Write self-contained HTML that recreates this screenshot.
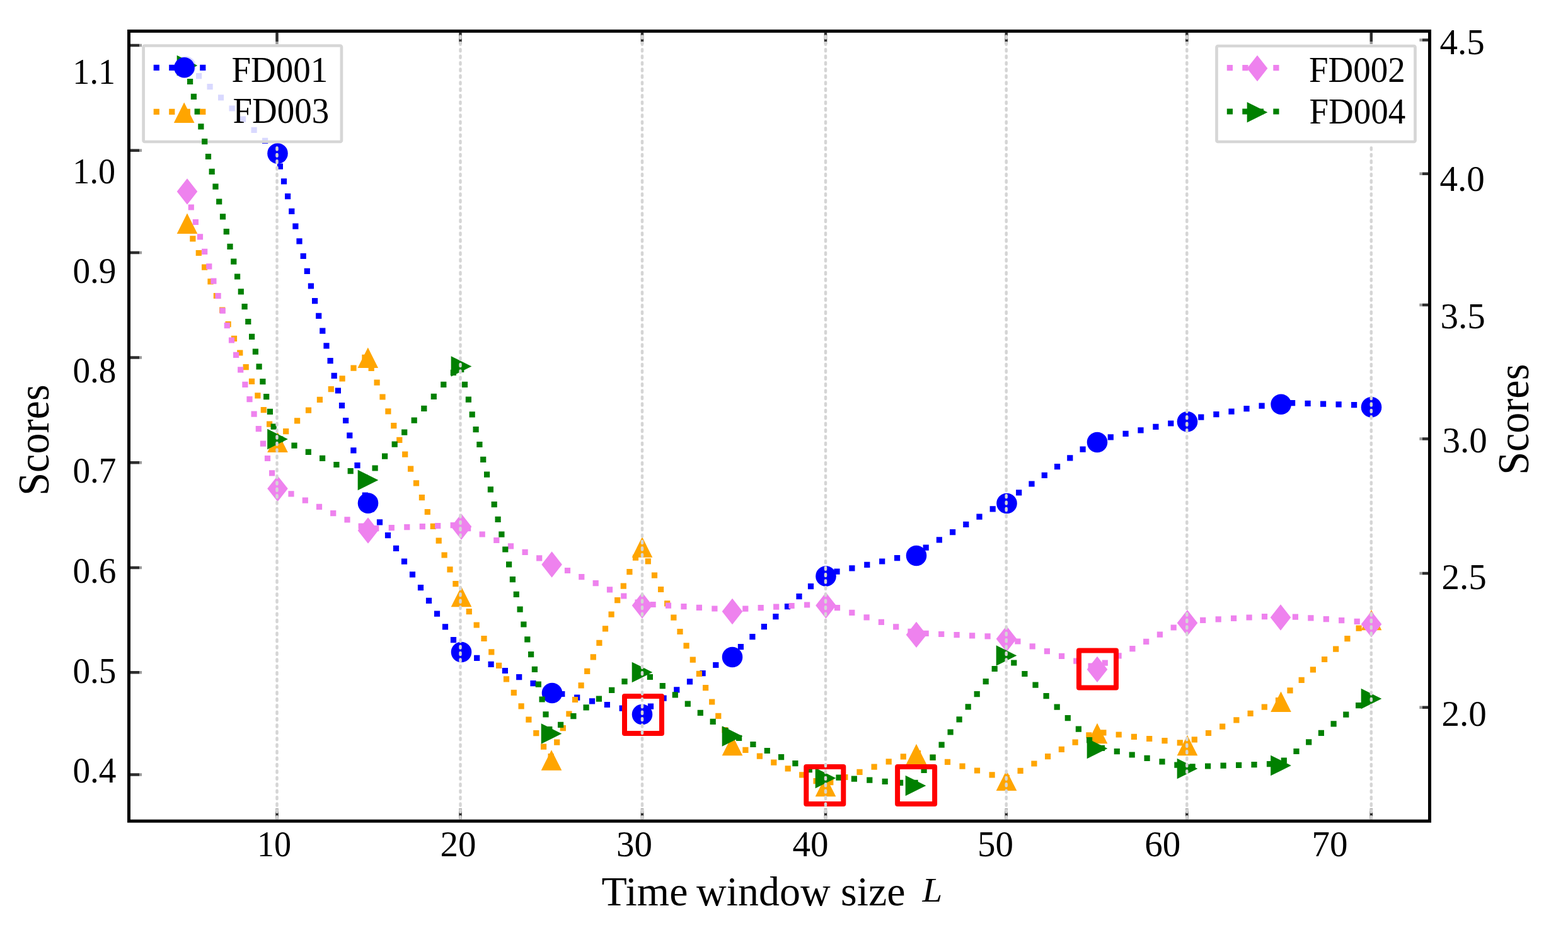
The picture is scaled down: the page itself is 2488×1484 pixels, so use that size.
<!DOCTYPE html>
<html><head><meta charset="utf-8"><title>Scores vs Time window size</title>
<style>html,body{margin:0;padding:0;background:#fff;overflow:hidden}svg{display:block}</style>
</head><body>
<svg width="2488" height="1484" viewBox="0 0 2488 1484" font-family="'Liberation Serif', 'Times New Roman', serif">
<rect x="0" y="0" width="2488" height="1484" fill="#ffffff"/>
<defs><clipPath id="ax"><rect x="207" y="52" width="2059" height="1248"/></clipPath></defs>
<g clip-path="url(#ax)">
<path d="M293.5 98.8h9.2v9.2h-9.2zM311.0 116.0h9.2v9.2h-9.2zM328.5 133.1h9.2v9.2h-9.2zM346.0 150.3h9.2v9.2h-9.2zM363.5 167.4h9.2v9.2h-9.2zM381.0 184.6h9.2v9.2h-9.2zM398.5 201.7h9.2v9.2h-9.2zM416.0 218.8h9.2v9.2h-9.2zM433.5 236.0h9.2v9.2h-9.2zM439.8 259.6h9.2v9.2h-9.2zM445.9 283.3h9.2v9.2h-9.2zM452.0 307.1h9.2v9.2h-9.2zM458.2 330.8h9.2v9.2h-9.2zM464.3 354.5h9.2v9.2h-9.2zM470.4 378.2h9.2v9.2h-9.2zM476.6 401.9h9.2v9.2h-9.2zM482.7 425.7h9.2v9.2h-9.2zM488.8 449.4h9.2v9.2h-9.2zM495.0 473.1h9.2v9.2h-9.2zM501.1 496.8h9.2v9.2h-9.2zM507.2 520.5h9.2v9.2h-9.2zM513.4 544.3h9.2v9.2h-9.2zM519.5 568.0h9.2v9.2h-9.2zM525.6 591.7h9.2v9.2h-9.2zM531.8 615.4h9.2v9.2h-9.2zM537.9 639.1h9.2v9.2h-9.2zM544.0 662.9h9.2v9.2h-9.2zM550.2 686.6h9.2v9.2h-9.2zM556.3 710.3h9.2v9.2h-9.2zM562.4 734.0h9.2v9.2h-9.2zM568.6 757.7h9.2v9.2h-9.2zM574.7 781.5h9.2v9.2h-9.2zM584.9 803.4h9.2v9.2h-9.2zM597.9 824.2h9.2v9.2h-9.2zM610.9 845.0h9.2v9.2h-9.2zM623.9 865.7h9.2v9.2h-9.2zM636.9 886.5h9.2v9.2h-9.2zM649.9 907.3h9.2v9.2h-9.2zM662.9 928.0h9.2v9.2h-9.2zM675.9 948.8h9.2v9.2h-9.2zM688.9 969.6h9.2v9.2h-9.2zM701.9 990.3h9.2v9.2h-9.2zM714.9 1011.1h9.2v9.2h-9.2zM729.8 1029.7h9.2v9.2h-9.2zM752.1 1039.8h9.2v9.2h-9.2zM774.5 1049.8h9.2v9.2h-9.2zM796.8 1059.9h9.2v9.2h-9.2zM819.1 1070.0h9.2v9.2h-9.2zM841.4 1080.1h9.2v9.2h-9.2zM863.8 1090.2h9.2v9.2h-9.2zM887.2 1096.9h9.2v9.2h-9.2zM911.1 1102.6h9.2v9.2h-9.2zM934.9 1108.2h9.2v9.2h-9.2zM958.8 1113.9h9.2v9.2h-9.2zM982.6 1119.6h9.2v9.2h-9.2zM1006.4 1125.2h9.2v9.2h-9.2zM1027.9 1116.6h9.2v9.2h-9.2zM1048.5 1103.5h9.2v9.2h-9.2zM1069.2 1090.3h9.2v9.2h-9.2zM1089.9 1077.2h9.2v9.2h-9.2zM1110.5 1064.0h9.2v9.2h-9.2zM1131.2 1050.9h9.2v9.2h-9.2zM1151.9 1037.7h9.2v9.2h-9.2zM1170.8 1022.1h9.2v9.2h-9.2zM1189.3 1006.1h9.2v9.2h-9.2zM1207.8 990.1h9.2v9.2h-9.2zM1226.3 974.0h9.2v9.2h-9.2zM1244.9 958.0h9.2v9.2h-9.2zM1263.4 942.0h9.2v9.2h-9.2zM1281.9 926.0h9.2v9.2h-9.2zM1300.4 909.9h9.2v9.2h-9.2zM1323.4 902.6h9.2v9.2h-9.2zM1347.3 897.2h9.2v9.2h-9.2zM1371.2 891.8h9.2v9.2h-9.2zM1395.1 886.4h9.2v9.2h-9.2zM1419.0 881.0h9.2v9.2h-9.2zM1442.9 875.6h9.2v9.2h-9.2zM1464.6 864.6h9.2v9.2h-9.2zM1485.8 852.3h9.2v9.2h-9.2zM1507.0 840.0h9.2v9.2h-9.2zM1528.2 827.8h9.2v9.2h-9.2zM1549.4 815.5h9.2v9.2h-9.2zM1570.6 803.2h9.2v9.2h-9.2zM1591.8 790.9h9.2v9.2h-9.2zM1612.1 777.2h9.2v9.2h-9.2zM1632.4 763.4h9.2v9.2h-9.2zM1652.7 749.7h9.2v9.2h-9.2zM1673.0 736.0h9.2v9.2h-9.2zM1693.2 722.3h9.2v9.2h-9.2zM1713.5 708.6h9.2v9.2h-9.2zM1733.8 694.8h9.2v9.2h-9.2zM1757.7 689.2h9.2v9.2h-9.2zM1781.5 683.8h9.2v9.2h-9.2zM1805.4 678.3h9.2v9.2h-9.2zM1829.3 672.8h9.2v9.2h-9.2zM1853.2 667.4h9.2v9.2h-9.2zM1877.1 661.9h9.2v9.2h-9.2zM1901.2 657.5h9.2v9.2h-9.2zM1925.3 653.0h9.2v9.2h-9.2zM1949.4 648.5h9.2v9.2h-9.2zM1973.4 644.1h9.2v9.2h-9.2zM1997.5 639.6h9.2v9.2h-9.2zM2021.6 635.2h9.2v9.2h-9.2zM2046.0 635.0h9.2v9.2h-9.2zM2070.5 635.8h9.2v9.2h-9.2zM2095.0 636.6h9.2v9.2h-9.2zM2119.5 637.3h9.2v9.2h-9.2zM2144.0 638.1h9.2v9.2h-9.2zM2168.5 638.9h9.2v9.2h-9.2z" fill="#0000ff" />
<circle cx="294.5" cy="105.5" r="16.3" fill="#0000ff"/>
<circle cx="440.5" cy="243.6" r="16.3" fill="#0000ff"/>
<circle cx="584.0" cy="798.6" r="16.3" fill="#0000ff"/>
<circle cx="732.0" cy="1035.0" r="16.3" fill="#0000ff"/>
<circle cx="876.0" cy="1100.0" r="16.3" fill="#0000ff"/>
<circle cx="1019.0" cy="1134.0" r="16.3" fill="#0000ff"/>
<circle cx="1162.0" cy="1043.0" r="16.3" fill="#0000ff"/>
<circle cx="1310.5" cy="914.5" r="16.3" fill="#0000ff"/>
<circle cx="1454.0" cy="882.0" r="16.3" fill="#0000ff"/>
<circle cx="1597.5" cy="799.0" r="16.3" fill="#0000ff"/>
<circle cx="1741.0" cy="702.0" r="16.3" fill="#0000ff"/>
<circle cx="1884.0" cy="669.3" r="16.3" fill="#0000ff"/>
<circle cx="2032.6" cy="641.8" r="16.3" fill="#0000ff"/>
<circle cx="2176.0" cy="646.3" r="16.3" fill="#0000ff"/>
<path d="M292.0 351.7h9.2v9.2h-9.2zM301.3 374.3h9.2v9.2h-9.2zM310.7 396.9h9.2v9.2h-9.2zM320.0 419.6h9.2v9.2h-9.2zM329.4 442.2h9.2v9.2h-9.2zM338.8 464.9h9.2v9.2h-9.2zM348.1 487.5h9.2v9.2h-9.2zM357.5 510.1h9.2v9.2h-9.2zM366.9 532.8h9.2v9.2h-9.2zM376.2 555.4h9.2v9.2h-9.2zM385.6 578.1h9.2v9.2h-9.2zM394.9 600.7h9.2v9.2h-9.2zM404.3 623.3h9.2v9.2h-9.2zM413.7 646.0h9.2v9.2h-9.2zM423.0 668.6h9.2v9.2h-9.2zM432.4 691.3h9.2v9.2h-9.2zM449.1 680.0h9.2v9.2h-9.2zM467.0 663.2h9.2v9.2h-9.2zM484.9 646.5h9.2v9.2h-9.2zM502.8 629.8h9.2v9.2h-9.2zM520.7 613.0h9.2v9.2h-9.2zM538.5 596.3h9.2v9.2h-9.2zM556.4 579.5h9.2v9.2h-9.2zM574.3 562.8h9.2v9.2h-9.2zM584.6 579.7h9.2v9.2h-9.2zM593.5 602.5h9.2v9.2h-9.2zM602.4 625.4h9.2v9.2h-9.2zM611.3 648.2h9.2v9.2h-9.2zM620.2 671.0h9.2v9.2h-9.2zM629.2 693.8h9.2v9.2h-9.2zM638.1 716.6h9.2v9.2h-9.2zM647.0 739.5h9.2v9.2h-9.2zM655.9 762.3h9.2v9.2h-9.2zM664.8 785.1h9.2v9.2h-9.2zM673.7 807.9h9.2v9.2h-9.2zM682.7 830.7h9.2v9.2h-9.2zM691.6 853.6h9.2v9.2h-9.2zM700.5 876.4h9.2v9.2h-9.2zM709.4 899.2h9.2v9.2h-9.2zM718.3 922.0h9.2v9.2h-9.2zM727.9 944.5h9.2v9.2h-9.2zM739.7 966.0h9.2v9.2h-9.2zM751.6 987.4h9.2v9.2h-9.2zM763.4 1008.9h9.2v9.2h-9.2zM775.2 1030.3h9.2v9.2h-9.2zM787.0 1051.8h9.2v9.2h-9.2zM798.9 1073.3h9.2v9.2h-9.2zM810.7 1094.7h9.2v9.2h-9.2zM822.5 1116.2h9.2v9.2h-9.2zM834.3 1137.6h9.2v9.2h-9.2zM846.2 1159.1h9.2v9.2h-9.2zM858.0 1180.6h9.2v9.2h-9.2zM869.5 1196.0h9.2v9.2h-9.2zM879.1 1173.5h9.2v9.2h-9.2zM888.7 1151.0h9.2v9.2h-9.2zM898.3 1128.4h9.2v9.2h-9.2zM907.9 1105.9h9.2v9.2h-9.2zM917.5 1083.3h9.2v9.2h-9.2zM927.1 1060.8h9.2v9.2h-9.2zM936.7 1038.3h9.2v9.2h-9.2zM946.3 1015.7h9.2v9.2h-9.2zM955.9 993.2h9.2v9.2h-9.2zM965.5 970.6h9.2v9.2h-9.2zM975.1 948.1h9.2v9.2h-9.2zM984.7 925.6h9.2v9.2h-9.2zM994.3 903.0h9.2v9.2h-9.2zM1003.9 880.5h9.2v9.2h-9.2zM1013.6 864.0h9.2v9.2h-9.2zM1023.7 886.3h9.2v9.2h-9.2zM1033.9 908.6h9.2v9.2h-9.2zM1044.0 930.9h9.2v9.2h-9.2zM1054.1 953.3h9.2v9.2h-9.2zM1064.3 975.6h9.2v9.2h-9.2zM1074.4 997.9h9.2v9.2h-9.2zM1084.5 1020.2h9.2v9.2h-9.2zM1094.7 1042.5h9.2v9.2h-9.2zM1104.8 1064.8h9.2v9.2h-9.2zM1115.0 1087.1h9.2v9.2h-9.2zM1125.1 1109.4h9.2v9.2h-9.2zM1135.2 1131.7h9.2v9.2h-9.2zM1145.4 1154.0h9.2v9.2h-9.2zM1155.9 1175.9h9.2v9.2h-9.2zM1178.3 1185.8h9.2v9.2h-9.2zM1200.8 1195.6h9.2v9.2h-9.2zM1223.2 1205.5h9.2v9.2h-9.2zM1245.6 1215.3h9.2v9.2h-9.2zM1268.1 1225.2h9.2v9.2h-9.2zM1290.5 1235.0h9.2v9.2h-9.2zM1313.2 1237.1h9.2v9.2h-9.2zM1336.3 1228.9h9.2v9.2h-9.2zM1359.4 1220.7h9.2v9.2h-9.2zM1382.5 1212.5h9.2v9.2h-9.2zM1405.6 1204.3h9.2v9.2h-9.2zM1428.7 1196.2h9.2v9.2h-9.2zM1451.9 1191.0h9.2v9.2h-9.2zM1475.4 1197.8h9.2v9.2h-9.2zM1498.9 1204.7h9.2v9.2h-9.2zM1522.4 1211.5h9.2v9.2h-9.2zM1545.9 1218.4h9.2v9.2h-9.2zM1569.5 1225.3h9.2v9.2h-9.2zM1592.8 1230.0h9.2v9.2h-9.2zM1614.5 1218.7h9.2v9.2h-9.2zM1636.3 1207.4h9.2v9.2h-9.2zM1658.0 1196.1h9.2v9.2h-9.2zM1679.8 1184.8h9.2v9.2h-9.2zM1701.5 1173.6h9.2v9.2h-9.2zM1723.3 1162.3h9.2v9.2h-9.2zM1746.3 1158.2h9.2v9.2h-9.2zM1770.6 1161.4h9.2v9.2h-9.2zM1794.8 1164.7h9.2v9.2h-9.2zM1819.1 1167.9h9.2v9.2h-9.2zM1843.4 1171.1h9.2v9.2h-9.2zM1867.7 1174.3h9.2v9.2h-9.2zM1890.7 1169.3h9.2v9.2h-9.2zM1912.9 1158.9h9.2v9.2h-9.2zM1935.1 1148.6h9.2v9.2h-9.2zM1957.3 1138.2h9.2v9.2h-9.2zM1979.5 1127.8h9.2v9.2h-9.2zM2001.7 1117.5h9.2v9.2h-9.2zM2023.9 1107.1h9.2v9.2h-9.2zM2042.4 1091.2h9.2v9.2h-9.2zM2060.6 1074.8h9.2v9.2h-9.2zM2078.8 1058.3h9.2v9.2h-9.2zM2097.0 1041.9h9.2v9.2h-9.2zM2115.1 1025.5h9.2v9.2h-9.2zM2133.3 1009.0h9.2v9.2h-9.2zM2151.5 992.6h9.2v9.2h-9.2z" fill="#ffa500" />
<polygon points="297.0,338.5 280.7,371.1 313.3,371.1" fill="#ffa500"/>
<polygon points="440.5,685.5 424.2,718.1 456.8,718.1" fill="#ffa500"/>
<polygon points="583.8,551.4 567.5,584.0 600.1,584.0" fill="#ffa500"/>
<polygon points="732.0,930.7 715.7,963.3 748.3,963.3" fill="#ffa500"/>
<polygon points="875.0,1190.2 858.7,1222.8 891.3,1222.8" fill="#ffa500"/>
<polygon points="1019.0,852.1 1002.7,884.7 1035.3,884.7" fill="#ffa500"/>
<polygon points="1162.0,1166.7 1145.7,1199.3 1178.3,1199.3" fill="#ffa500"/>
<polygon points="1310.0,1231.7 1293.7,1264.3 1326.3,1264.3" fill="#ffa500"/>
<polygon points="1454.0,1180.7 1437.7,1213.3 1470.3,1213.3" fill="#ffa500"/>
<polygon points="1597.0,1222.4 1580.7,1255.0 1613.3,1255.0" fill="#ffa500"/>
<polygon points="1741.0,1147.7 1724.7,1180.3 1757.3,1180.3" fill="#ffa500"/>
<polygon points="1884.0,1166.7 1867.7,1199.3 1900.3,1199.3" fill="#ffa500"/>
<polygon points="2032.5,1097.4 2016.2,1130.0 2048.8,1130.0" fill="#ffa500"/>
<polygon points="2176.0,967.7 2159.7,1000.3 2192.3,1000.3" fill="#ffa500"/>
<rect x="227.6" y="72.5" width="314.3" height="152.5" rx="2" fill="#ffffff" fill-opacity="0.85" stroke="#d6d6d6" stroke-width="4.7"/>
<path d="M291.5 301.0h9.2v9.2h-9.2zM298.7 324.4h9.2v9.2h-9.2zM305.8 347.9h9.2v9.2h-9.2zM312.9 371.3h9.2v9.2h-9.2zM320.1 394.8h9.2v9.2h-9.2zM327.2 418.2h9.2v9.2h-9.2zM334.3 441.6h9.2v9.2h-9.2zM341.5 465.1h9.2v9.2h-9.2zM348.6 488.5h9.2v9.2h-9.2zM355.7 512.0h9.2v9.2h-9.2zM362.9 535.4h9.2v9.2h-9.2zM370.0 558.8h9.2v9.2h-9.2zM377.1 582.3h9.2v9.2h-9.2zM384.3 605.7h9.2v9.2h-9.2zM391.4 629.1h9.2v9.2h-9.2zM398.5 652.6h9.2v9.2h-9.2zM405.7 676.0h9.2v9.2h-9.2zM412.8 699.5h9.2v9.2h-9.2zM419.9 722.9h9.2v9.2h-9.2zM427.0 746.3h9.2v9.2h-9.2zM435.2 768.9h9.2v9.2h-9.2zM457.4 779.2h9.2v9.2h-9.2zM479.7 789.5h9.2v9.2h-9.2zM501.9 799.8h9.2v9.2h-9.2zM524.1 810.0h9.2v9.2h-9.2zM546.4 820.3h9.2v9.2h-9.2zM568.6 830.6h9.2v9.2h-9.2zM592.2 834.0h9.2v9.2h-9.2zM616.7 833.0h9.2v9.2h-9.2zM641.2 832.0h9.2v9.2h-9.2zM665.7 831.0h9.2v9.2h-9.2zM690.1 830.0h9.2v9.2h-9.2zM714.6 829.0h9.2v9.2h-9.2zM738.0 834.0h9.2v9.2h-9.2zM760.6 843.4h9.2v9.2h-9.2zM783.2 852.9h9.2v9.2h-9.2zM805.9 862.3h9.2v9.2h-9.2zM828.5 871.7h9.2v9.2h-9.2zM851.1 881.2h9.2v9.2h-9.2zM873.6 890.8h9.2v9.2h-9.2zM895.9 900.9h9.2v9.2h-9.2zM918.2 911.0h9.2v9.2h-9.2zM940.6 921.1h9.2v9.2h-9.2zM962.9 931.2h9.2v9.2h-9.2zM985.2 941.4h9.2v9.2h-9.2zM1007.5 951.5h9.2v9.2h-9.2zM1031.5 954.9h9.2v9.2h-9.2zM1055.9 956.5h9.2v9.2h-9.2zM1080.4 958.1h9.2v9.2h-9.2zM1104.8 959.8h9.2v9.2h-9.2zM1129.3 961.4h9.2v9.2h-9.2zM1153.7 963.0h9.2v9.2h-9.2zM1178.2 961.6h9.2v9.2h-9.2zM1202.6 960.1h9.2v9.2h-9.2zM1227.1 958.5h9.2v9.2h-9.2zM1251.5 956.9h9.2v9.2h-9.2zM1276.0 955.4h9.2v9.2h-9.2zM1300.4 953.8h9.2v9.2h-9.2zM1323.9 960.1h9.2v9.2h-9.2zM1347.2 967.7h9.2v9.2h-9.2zM1370.5 975.2h9.2v9.2h-9.2zM1393.8 982.7h9.2v9.2h-9.2zM1417.1 990.3h9.2v9.2h-9.2zM1440.4 997.8h9.2v9.2h-9.2zM1464.6 1000.8h9.2v9.2h-9.2zM1489.1 1001.9h9.2v9.2h-9.2zM1513.5 1003.1h9.2v9.2h-9.2zM1538.0 1004.2h9.2v9.2h-9.2zM1562.5 1005.3h9.2v9.2h-9.2zM1587.0 1006.5h9.2v9.2h-9.2zM1610.3 1013.4h9.2v9.2h-9.2zM1633.6 1021.2h9.2v9.2h-9.2zM1656.8 1029.0h9.2v9.2h-9.2zM1680.0 1036.8h9.2v9.2h-9.2zM1703.2 1044.6h9.2v9.2h-9.2zM1726.5 1052.4h9.2v9.2h-9.2zM1748.7 1047.5h9.2v9.2h-9.2zM1770.5 1036.3h9.2v9.2h-9.2zM1792.3 1025.1h9.2v9.2h-9.2zM1814.1 1013.8h9.2v9.2h-9.2zM1835.8 1002.6h9.2v9.2h-9.2zM1857.6 991.4h9.2v9.2h-9.2zM1879.7 981.2h9.2v9.2h-9.2zM1904.1 979.7h9.2v9.2h-9.2zM1928.6 978.3h9.2v9.2h-9.2zM1953.0 976.8h9.2v9.2h-9.2zM1977.5 975.4h9.2v9.2h-9.2zM2001.9 974.0h9.2v9.2h-9.2zM2026.4 972.7h9.2v9.2h-9.2zM2050.8 974.5h9.2v9.2h-9.2zM2075.3 976.3h9.2v9.2h-9.2zM2099.7 978.1h9.2v9.2h-9.2zM2124.1 980.0h9.2v9.2h-9.2zM2148.6 981.8h9.2v9.2h-9.2z" fill="#ee82ee" />
<polygon points="297.0,283.3 313.3,304.0 297.0,324.7 280.7,304.0" fill="#ee82ee"/>
<polygon points="440.5,754.9 456.8,775.6 440.5,796.3 424.2,775.6" fill="#ee82ee"/>
<polygon points="584.0,821.3 600.3,842.0 584.0,862.7 567.7,842.0" fill="#ee82ee"/>
<polygon points="732.0,815.3 748.3,836.0 732.0,856.7 715.7,836.0" fill="#ee82ee"/>
<polygon points="875.6,875.3 891.9,896.0 875.6,916.7 859.3,896.0" fill="#ee82ee"/>
<polygon points="1019.0,940.3 1035.3,961.0 1019.0,981.7 1002.7,961.0" fill="#ee82ee"/>
<polygon points="1162.0,949.8 1178.3,970.5 1162.0,991.2 1145.7,970.5" fill="#ee82ee"/>
<polygon points="1310.5,940.3 1326.8,961.0 1310.5,981.7 1294.2,961.0" fill="#ee82ee"/>
<polygon points="1454.0,986.7 1470.3,1007.4 1454.0,1028.1 1437.7,1007.4" fill="#ee82ee"/>
<polygon points="1597.0,993.3 1613.3,1014.0 1597.0,1034.7 1580.7,1014.0" fill="#ee82ee"/>
<polygon points="1741.0,1041.7 1757.3,1062.4 1741.0,1083.1 1724.7,1062.4" fill="#ee82ee"/>
<polygon points="1884.0,968.0 1900.3,988.7 1884.0,1009.4 1867.7,988.7" fill="#ee82ee"/>
<polygon points="2032.0,959.3 2048.3,980.0 2032.0,1000.7 2015.7,980.0" fill="#ee82ee"/>
<polygon points="2176.0,970.0 2192.3,990.7 2176.0,1011.4 2159.7,990.7" fill="#ee82ee"/>
<path d="M291.3 101.1h9.2v9.2h-9.2zM297.0 124.9h9.2v9.2h-9.2zM302.8 148.7h9.2v9.2h-9.2zM308.6 172.5h9.2v9.2h-9.2zM314.3 196.3h9.2v9.2h-9.2zM320.1 220.1h9.2v9.2h-9.2zM325.9 243.9h9.2v9.2h-9.2zM331.6 267.8h9.2v9.2h-9.2zM337.4 291.6h9.2v9.2h-9.2zM343.1 315.4h9.2v9.2h-9.2zM348.9 339.2h9.2v9.2h-9.2zM354.7 363.0h9.2v9.2h-9.2zM360.4 386.8h9.2v9.2h-9.2zM366.2 410.6h9.2v9.2h-9.2zM372.0 434.4h9.2v9.2h-9.2zM377.7 458.3h9.2v9.2h-9.2zM383.5 482.1h9.2v9.2h-9.2zM389.2 505.9h9.2v9.2h-9.2zM395.0 529.7h9.2v9.2h-9.2zM400.8 553.5h9.2v9.2h-9.2zM406.5 577.3h9.2v9.2h-9.2zM412.3 601.1h9.2v9.2h-9.2zM418.1 625.0h9.2v9.2h-9.2zM423.8 648.8h9.2v9.2h-9.2zM429.6 672.6h9.2v9.2h-9.2zM440.1 692.5h9.2v9.2h-9.2zM462.4 702.6h9.2v9.2h-9.2zM484.7 712.7h9.2v9.2h-9.2zM507.0 722.8h9.2v9.2h-9.2zM529.3 732.9h9.2v9.2h-9.2zM551.6 743.0h9.2v9.2h-9.2zM574.0 753.1h9.2v9.2h-9.2zM590.5 738.4h9.2v9.2h-9.2zM606.0 719.5h9.2v9.2h-9.2zM621.6 700.5h9.2v9.2h-9.2zM637.1 681.6h9.2v9.2h-9.2zM652.6 662.6h9.2v9.2h-9.2zM668.2 643.7h9.2v9.2h-9.2zM683.7 624.7h9.2v9.2h-9.2zM699.2 605.8h9.2v9.2h-9.2zM714.8 586.8h9.2v9.2h-9.2zM727.1 581.9h9.2v9.2h-9.2zM732.9 605.7h9.2v9.2h-9.2zM738.8 629.5h9.2v9.2h-9.2zM744.6 653.3h9.2v9.2h-9.2zM750.5 677.1h9.2v9.2h-9.2zM756.3 700.9h9.2v9.2h-9.2zM762.1 724.7h9.2v9.2h-9.2zM768.0 748.5h9.2v9.2h-9.2zM773.8 772.3h9.2v9.2h-9.2zM779.6 796.1h9.2v9.2h-9.2zM785.5 819.8h9.2v9.2h-9.2zM791.3 843.6h9.2v9.2h-9.2zM797.2 867.4h9.2v9.2h-9.2zM803.0 891.2h9.2v9.2h-9.2zM808.8 915.0h9.2v9.2h-9.2zM814.7 938.8h9.2v9.2h-9.2zM820.5 962.6h9.2v9.2h-9.2zM826.3 986.4h9.2v9.2h-9.2zM832.2 1010.2h9.2v9.2h-9.2zM838.0 1034.0h9.2v9.2h-9.2zM843.8 1057.8h9.2v9.2h-9.2zM849.7 1081.6h9.2v9.2h-9.2zM855.5 1105.4h9.2v9.2h-9.2zM861.4 1129.2h9.2v9.2h-9.2zM867.2 1153.0h9.2v9.2h-9.2zM885.0 1145.7h9.2v9.2h-9.2zM905.3 1132.0h9.2v9.2h-9.2zM925.5 1118.3h9.2v9.2h-9.2zM945.8 1104.5h9.2v9.2h-9.2zM966.1 1090.8h9.2v9.2h-9.2zM986.4 1077.1h9.2v9.2h-9.2zM1006.7 1063.3h9.2v9.2h-9.2zM1026.8 1069.9h9.2v9.2h-9.2zM1046.7 1084.1h9.2v9.2h-9.2zM1066.7 1098.3h9.2v9.2h-9.2zM1086.7 1112.5h9.2v9.2h-9.2zM1106.7 1126.7h9.2v9.2h-9.2zM1126.6 1140.8h9.2v9.2h-9.2zM1146.6 1155.0h9.2v9.2h-9.2zM1168.0 1166.8h9.2v9.2h-9.2zM1190.3 1176.9h9.2v9.2h-9.2zM1212.7 1186.9h9.2v9.2h-9.2zM1235.0 1197.0h9.2v9.2h-9.2zM1257.3 1207.0h9.2v9.2h-9.2zM1279.7 1217.0h9.2v9.2h-9.2zM1302.0 1227.1h9.2v9.2h-9.2zM1326.4 1229.5h9.2v9.2h-9.2zM1350.8 1231.6h9.2v9.2h-9.2zM1375.2 1233.6h9.2v9.2h-9.2zM1399.6 1235.7h9.2v9.2h-9.2zM1424.0 1237.7h9.2v9.2h-9.2zM1447.5 1237.8h9.2v9.2h-9.2zM1461.5 1217.7h9.2v9.2h-9.2zM1475.5 1197.6h9.2v9.2h-9.2zM1489.5 1177.5h9.2v9.2h-9.2zM1503.5 1157.4h9.2v9.2h-9.2zM1517.5 1137.3h9.2v9.2h-9.2zM1531.6 1117.2h9.2v9.2h-9.2zM1545.6 1097.1h9.2v9.2h-9.2zM1559.6 1077.0h9.2v9.2h-9.2zM1573.6 1056.9h9.2v9.2h-9.2zM1587.6 1036.8h9.2v9.2h-9.2zM1604.2 1047.4h9.2v9.2h-9.2zM1621.3 1064.9h9.2v9.2h-9.2zM1638.4 1082.5h9.2v9.2h-9.2zM1655.5 1100.0h9.2v9.2h-9.2zM1672.6 1117.5h9.2v9.2h-9.2zM1689.7 1135.1h9.2v9.2h-9.2zM1706.8 1152.6h9.2v9.2h-9.2zM1724.0 1170.1h9.2v9.2h-9.2zM1743.8 1182.7h9.2v9.2h-9.2zM1767.7 1188.1h9.2v9.2h-9.2zM1791.6 1193.4h9.2v9.2h-9.2zM1815.5 1198.8h9.2v9.2h-9.2zM1839.4 1204.2h9.2v9.2h-9.2zM1863.3 1209.5h9.2v9.2h-9.2zM1887.5 1212.3h9.2v9.2h-9.2zM1912.0 1211.4h9.2v9.2h-9.2zM1936.5 1210.6h9.2v9.2h-9.2zM1961.0 1209.8h9.2v9.2h-9.2zM1985.4 1209.0h9.2v9.2h-9.2zM2009.9 1208.1h9.2v9.2h-9.2zM2032.7 1202.4h9.2v9.2h-9.2zM2052.4 1187.9h9.2v9.2h-9.2zM2072.1 1173.3h9.2v9.2h-9.2zM2091.8 1158.7h9.2v9.2h-9.2zM2111.5 1144.2h9.2v9.2h-9.2zM2131.2 1129.6h9.2v9.2h-9.2zM2151.0 1115.1h9.2v9.2h-9.2z" fill="#008000" />
<polygon points="313.3,104.0 280.7,87.7 280.7,120.3" fill="#008000"/>
<polygon points="456.8,697.0 424.2,680.7 424.2,713.3" fill="#008000"/>
<polygon points="600.3,762.0 567.7,745.7 567.7,778.3" fill="#008000"/>
<polygon points="748.3,581.5 715.7,565.2 715.7,597.8" fill="#008000"/>
<polygon points="891.3,1164.5 858.7,1148.2 858.7,1180.8" fill="#008000"/>
<polygon points="1035.3,1067.0 1002.7,1050.7 1002.7,1083.3" fill="#008000"/>
<polygon points="1178.3,1168.5 1145.7,1152.2 1145.7,1184.8" fill="#008000"/>
<polygon points="1326.3,1235.0 1293.7,1218.7 1293.7,1251.3" fill="#008000"/>
<polygon points="1469.3,1247.0 1436.7,1230.7 1436.7,1263.3" fill="#008000"/>
<polygon points="1613.3,1040.5 1580.7,1024.2 1580.7,1056.8" fill="#008000"/>
<polygon points="1757.3,1188.0 1724.7,1171.7 1724.7,1204.3" fill="#008000"/>
<polygon points="1900.3,1220.0 1867.7,1203.7 1867.7,1236.3" fill="#008000"/>
<polygon points="2048.8,1215.0 2016.2,1198.7 2016.2,1231.3" fill="#008000"/>
<polygon points="2192.3,1109.0 2159.7,1092.7 2159.7,1125.3" fill="#008000"/>
<rect x="991.0" y="1105.0" width="59" height="59" fill="none" stroke="#ff0000" stroke-width="8" stroke-linejoin="round"/>
<rect x="1279.3" y="1217.1" width="59" height="59" fill="none" stroke="#ff0000" stroke-width="8" stroke-linejoin="round"/>
<rect x="1424.1" y="1217.0" width="59" height="59" fill="none" stroke="#ff0000" stroke-width="8" stroke-linejoin="round"/>
<rect x="1712.0" y="1032.5" width="59" height="59" fill="none" stroke="#ff0000" stroke-width="8" stroke-linejoin="round"/>
</g>
<path d="M221 72H225 M221 238.7H225 M221 401H225 M221 567.5H225 M221 734.3H225 M221 901H225 M221 1067.2H225 M221 1229.4H225 M2257 63.5H2252.3 M2257 275.7H2252.3 M2257 484H2252.3 M2257 696.5H2252.3 M2257 910H2252.3 M2257 1122.8H2252.3 M439.5 66V70M439.5 1287V1283 M730.5 66V70M730.5 1287V1283 M1019 66V70M1019 1287V1283 M1310 66V70M1310 1287V1283 M1596.7 66V70M1596.7 1287V1283 M1883.3 66V70M1883.3 1287V1283 M2175.8 66V70M2175.8 1287V1283" stroke="#9a9a9a" stroke-width="4.5" fill="none"/>
<path d="M207 72H221 M207 238.7H221 M207 401H221 M207 567.5H221 M207 734.3H221 M207 901H221 M207 1067.2H221 M207 1229.4H221 M2266 63.5H2257 M2266 275.7H2257 M2266 484H2257 M2266 696.5H2257 M2266 910H2257 M2266 1122.8H2257 M439.5 52V66M439.5 1300V1287 M730.5 52V66M730.5 1300V1287 M1019 52V66M1019 1300V1287 M1310 52V66M1310 1300V1287 M1596.7 52V66M1596.7 1300V1287 M1883.3 52V66M1883.3 1300V1287 M2175.8 52V66M2175.8 1300V1287" stroke="#2e2e2e" stroke-width="4.5" fill="none"/>
<path d="M439.5 227.5V1300" stroke="#d5d5d5" stroke-width="4.5" stroke-dasharray="2.9 7.51" stroke-dashoffset="3.39" stroke-linecap="round" fill="none"/>
<path d="M730.5 52V1300" stroke="#d5d5d5" stroke-width="4.5" stroke-dasharray="2.9 7.51" stroke-dashoffset="4.86" stroke-linecap="round" fill="none"/>
<path d="M1019 52V1300" stroke="#d5d5d5" stroke-width="4.5" stroke-dasharray="2.9 7.51" stroke-dashoffset="4.86" stroke-linecap="round" fill="none"/>
<path d="M1310 52V1300" stroke="#d5d5d5" stroke-width="4.5" stroke-dasharray="2.9 7.51" stroke-dashoffset="4.86" stroke-linecap="round" fill="none"/>
<path d="M1596.7 52V1300" stroke="#d5d5d5" stroke-width="4.5" stroke-dasharray="2.9 7.51" stroke-dashoffset="4.86" stroke-linecap="round" fill="none"/>
<path d="M1883.3 52V1300" stroke="#d5d5d5" stroke-width="4.5" stroke-dasharray="2.9 7.51" stroke-dashoffset="4.86" stroke-linecap="round" fill="none"/>
<path d="M2175.8 227.5V1300" stroke="#d5d5d5" stroke-width="4.5" stroke-dasharray="2.9 7.51" stroke-dashoffset="3.39" stroke-linecap="round" fill="none"/>
<rect x="1930.5" y="73" width="315" height="152" rx="2" fill="#ffffff" fill-opacity="0.85" stroke="#d6d6d6" stroke-width="4.7"/>
<path d="M243.7 102.7h9.2v9.2h-9.2zM268.2 102.7h9.2v9.2h-9.2zM292.7 102.7h9.2v9.2h-9.2zM317.2 102.7h9.2v9.2h-9.2z" fill="#0000ff" />
<circle cx="292.5" cy="107.3" r="16.3" fill="#0000ff"/>
<path d="M243.7 172.7h9.2v9.2h-9.2zM268.2 172.7h9.2v9.2h-9.2zM292.7 172.7h9.2v9.2h-9.2zM317.2 172.7h9.2v9.2h-9.2z" fill="#ffa500" />
<polygon points="292.2,162.5 275.9,195.1 308.5,195.1" fill="#ffa500"/>
<path d="M1946.8 103.0h9.2v9.2h-9.2zM1971.3 103.0h9.2v9.2h-9.2zM1995.8 103.0h9.2v9.2h-9.2zM2020.3 103.0h9.2v9.2h-9.2z" fill="#ee82ee" />
<polygon points="1995.0,87.8 2011.3,108.5 1995.0,129.2 1978.7,108.5" fill="#ee82ee"/>
<path d="M1946.8 172.4h9.2v9.2h-9.2zM1971.3 172.4h9.2v9.2h-9.2zM1995.8 172.4h9.2v9.2h-9.2zM2020.3 172.4h9.2v9.2h-9.2z" fill="#008000" />
<polygon points="2011.3,178.3 1978.7,162.0 1978.7,194.6" fill="#008000"/>
<text transform="translate(367.5 129.5) scale(0.965 1)" font-size="57" text-anchor="start">FD001</text>
<text transform="translate(369.5 195) scale(0.965 1)" font-size="57" text-anchor="start">FD003</text>
<text transform="translate(2077 129.5) scale(0.965 1)" font-size="57" text-anchor="start">FD002</text>
<text transform="translate(2077.5 195.5) scale(0.965 1)" font-size="57" text-anchor="start">FD004</text>
<rect x="204.5" y="49.4" width="2064" height="1253.8" fill="none" stroke="#000000" stroke-width="5"/>
<text transform="translate(183 132.5) scale(0.95 1)" font-size="57" text-anchor="end">1.1</text>
<text transform="translate(183 290.5) scale(0.95 1)" font-size="57" text-anchor="end">1.0</text>
<text transform="translate(184.5 448.5) scale(0.97 1)" font-size="57" text-anchor="end">0.9</text>
<text transform="translate(184.5 607) scale(0.97 1)" font-size="57" text-anchor="end">0.8</text>
<text transform="translate(184.5 766) scale(0.97 1)" font-size="57" text-anchor="end">0.7</text>
<text transform="translate(184.5 924.5) scale(0.97 1)" font-size="57" text-anchor="end">0.6</text>
<text transform="translate(184.5 1084) scale(0.97 1)" font-size="57" text-anchor="end">0.5</text>
<text transform="translate(184.5 1241.5) scale(0.97 1)" font-size="57" text-anchor="end">0.4</text>
<text x="2284.5" y="86" font-size="57" text-anchor="start" >4.5</text>
<text x="2284.5" y="302.5" font-size="57" text-anchor="start" >4.0</text>
<text x="2285.5" y="520.5" font-size="57" text-anchor="start" >3.5</text>
<text x="2288.5" y="718" font-size="57" text-anchor="start" >3.0</text>
<text x="2287.5" y="935" font-size="57" text-anchor="start" >2.5</text>
<text x="2287.5" y="1151.5" font-size="57" text-anchor="start" >2.0</text>
<text transform="translate(435 1358.5) scale(0.95 1)" font-size="57" text-anchor="middle">10</text>
<text x="727" y="1358.5" font-size="57" text-anchor="middle" >20</text>
<text x="1006.5" y="1358.5" font-size="57" text-anchor="middle" >30</text>
<text x="1286" y="1358.5" font-size="57" text-anchor="middle" >40</text>
<text x="1579.6" y="1358.5" font-size="57" text-anchor="middle" >50</text>
<text x="1844.7" y="1358.5" font-size="57" text-anchor="middle" >60</text>
<text x="2110" y="1358.5" font-size="57" text-anchor="middle" >70</text>
<text x="954.5" y="1437" font-size="66" text-anchor="start" >Time</text>
<text x="1105" y="1437" font-size="66" text-anchor="start" >window</text>
<text x="1334" y="1437" font-size="66" text-anchor="start" >size</text>
<text transform="translate(1463.5 1431) scale(1.055 1)" font-size="54" font-style="italic">L</text>
<text transform="translate(76.5 698.5) rotate(-90) scale(0.945 1)" font-size="70" text-anchor="middle">Scores</text>
<text transform="translate(2425.3 665.7) rotate(-90) scale(0.945 1)" font-size="70" text-anchor="middle">Scores</text>
</svg>
</body></html>
